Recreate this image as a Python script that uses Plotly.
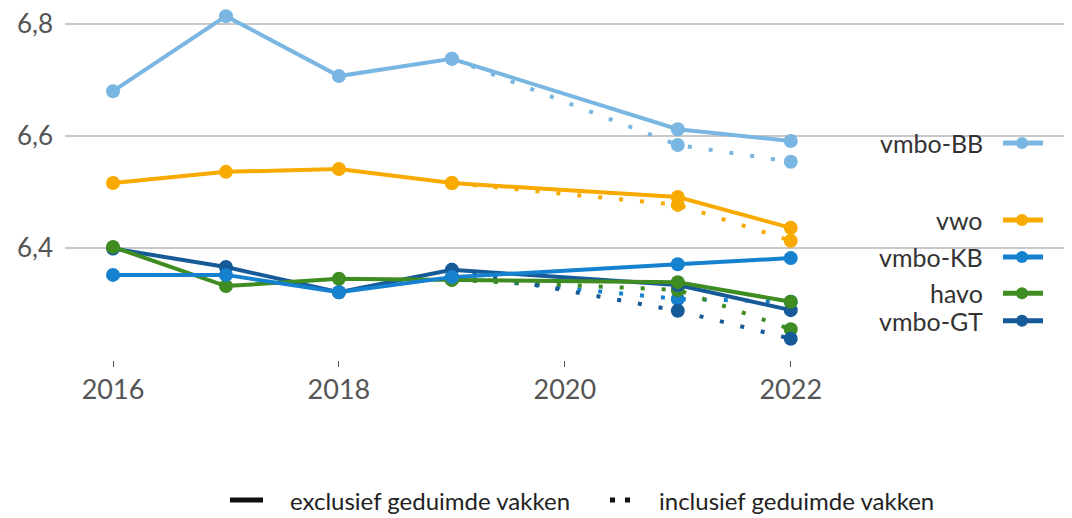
import plotly.graph_objects as go

# years with data (no 2020 measurement)
years = [2016, 2017, 2018, 2019, 2021, 2022]
years_incl = [2019, 2021, 2022]

series_names = ['vmbo-BB', 'vwo', 'vmbo-KB', 'havo', 'vmbo-GT']

# exclusief geduimde vakken
vmbo_bb = [6.680, 6.814, 6.707, 6.738, 6.612, 6.591]
vwo = [6.516, 6.536, 6.541, 6.516, 6.491, 6.436]
vmbo_kb = [6.352, 6.352, 6.321, 6.348, 6.371, 6.382]
havo = [6.402, 6.332, 6.345, 6.343, 6.339, 6.304]
vmbo_gt = [6.399, 6.366, 6.321, 6.361, 6.334, 6.289]

# inclusief geduimde vakken (from 2019 on)
vmbo_bb_incl = [6.738, 6.584, 6.554]
vwo_incl = [6.516, 6.477, 6.413]
vmbo_kb_incl = [6.348, 6.309, 6.304]
havo_incl = [6.343, 6.325, 6.255]
vmbo_gt_incl = [6.361, 6.288, 6.238]

y_ticks = [6.4, 6.6, 6.8]
x_ticks = [2016, 2018, 2020, 2022]

legend_labels = ['exclusief geduimde vakken', 'inclusief geduimde vakken']

excl = dict(zip(series_names, [vmbo_bb, vwo, vmbo_kb, havo, vmbo_gt]))
incl = dict(zip(series_names, [vmbo_bb_incl, vwo_incl, vmbo_kb_incl, havo_incl, vmbo_gt_incl]))

colors = {
    'vmbo-BB': '#79b7e2',
    'vwo': '#f8aa00',
    'vmbo-KB': '#1581cf',
    'havo': '#3e8c22',
    'vmbo-GT': '#165b97',
}
# vertical position of the end labels (data units)
label_y = {'vmbo-BB': 6.5875, 'vwo': 6.45, 'vmbo-KB': 6.384, 'havo': 6.319, 'vmbo-GT': 6.270}

# the page adds an 8px body margin, so the figure is 8px smaller
OFF = 8
W, H = 1072 - OFF, 518 - OFF
PLOT_LEFT, PLOT_BOTTOM = 65, 360          # in page pixels
ML = PLOT_LEFT - OFF
MB = H - (PLOT_BOTTOM - OFF)
PW, PH = W - ML, H - MB


def px_x(px):
    return (px - PLOT_LEFT) / PW


def px_y(py):
    return (PLOT_BOTTOM - py) / PH


fig = go.Figure()

# dotted lines first, solid on top
for name in series_names:
    fig.add_trace(go.Scatter(
        x=years_incl, y=incl[name],
        mode='lines+markers',
        line=dict(color=colors[name], width=4, dash='4px,17px'),
        marker=dict(size=14, color=colors[name]),
        showlegend=False, hoverinfo='skip'
    ))

for name in reversed(series_names):
    fig.add_trace(go.Scatter(
        x=years, y=excl[name],
        mode='lines+markers',
        name=name,
        line=dict(color=colors[name], width=4),
        marker=dict(size=14, color=colors[name]),
        showlegend=False
    ))

# end labels with small keys
for name in series_names:
    fig.add_annotation(
        x=px_x(982), xref='paper', y=label_y[name], yref='y',
        text=name, showarrow=False, xanchor='right', yanchor='middle',
        xshift=3, font=dict(size=25, color='#333333')
    )
    fig.add_shape(
        type='line', xref='paper', yref='y',
        x0=px_x(1003), x1=px_x(1043), y0=label_y[name], y1=label_y[name],
        line=dict(color=colors[name], width=5)
    )
    fig.add_shape(
        type='circle', xref='paper', yref='y',
        xsizemode='pixel', ysizemode='pixel',
        xanchor=px_x(1022), yanchor=label_y[name],
        x0=-6, x1=6, y0=-6, y1=6,
        fillcolor=colors[name], line=dict(width=0)
    )

# bottom legend
fig.add_shape(
    type='line', xref='paper', yref='paper',
    x0=px_x(230), x1=px_x(263), y0=px_y(500), y1=px_y(500),
    line=dict(color='#111111', width=5)
)
fig.add_shape(
    type='line', xref='paper', yref='paper',
    x0=px_x(610), x1=px_x(632), y0=px_y(500), y1=px_y(500),
    line=dict(color='#111111', width=5, dash='5px,10px')
)
fig.add_annotation(
    x=px_x(288), xref='paper', y=px_y(500), yref='paper',
    text=legend_labels[0], showarrow=False, xanchor='left', yanchor='middle',
    font=dict(size=24, color='#222222')
)
fig.add_annotation(
    x=px_x(657), xref='paper', y=px_y(500), yref='paper',
    text=legend_labels[1], showarrow=False, xanchor='left', yanchor='middle',
    font=dict(size=24, color='#222222')
)

fig.update_layout(
    width=W, height=H,
    margin=dict(l=ML, r=0, t=0, b=MB),
    plot_bgcolor='white', paper_bgcolor='white',
    separators=', ',
    showlegend=False,
    font=dict(family='Lato', size=22, color='#555555'),
    xaxis=dict(
        range=[2015.575, 2024.49], tickvals=x_ticks, automargin=False,
        showgrid=False, zeroline=False, showline=False,
        ticks='outside', ticklen=6, tickcolor='#555555', tickwidth=1,
        tickfont=dict(size=27, color='#555555')
    ),
    yaxis=dict(
        range=[6.2, 6.2 + PH / 560], tickvals=y_ticks, tickformat='.1f', automargin=False,
        showgrid=True, gridcolor='#c8c8c8', gridwidth=2,
        zeroline=False, showline=False, ticklabelstandoff=11,
        ticklabeloverflow='allow',
        tickfont=dict(size=26, color='#555555')
    ),
)

fig.write_html("out.html")
